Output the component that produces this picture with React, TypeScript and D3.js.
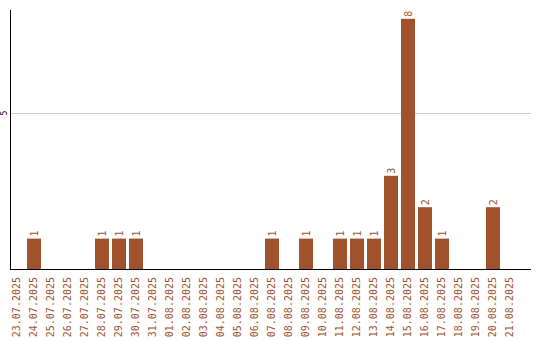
import React from "react";
import * as d3 from "d3";

const dates = [
  "23.07.2025","24.07.2025","25.07.2025","26.07.2025","27.07.2025","28.07.2025","29.07.2025","30.07.2025","31.07.2025",
  "01.08.2025","02.08.2025","03.08.2025","04.08.2025","05.08.2025","06.08.2025","07.08.2025","08.08.2025","09.08.2025",
  "10.08.2025","11.08.2025","12.08.2025","13.08.2025","14.08.2025","15.08.2025","16.08.2025","17.08.2025","18.08.2025",
  "19.08.2025","20.08.2025","21.08.2025",
];
const counts = [0,1,0,0,0,1,1,1,0, 0,0,0,0,0,0,1,0,1, 0,1,1,1,3,8,2,1,0, 0,2,0];
const yTicks = [5];

const W = 540, H = 340;
const color = "#a0522d";
const font = "'DejaVu Sans Mono', monospace";

export default function App() {
  const x = d3.scaleBand<string>().domain(dates).range([8.5, 518.5]).paddingInner(3 / 17).paddingOuter(1.5 / 17);
  const y = d3.scaleLinear().domain([0, 8.28]).range([270, 10]);
  return (
    <svg width={W} height={H} style={{ position: "absolute", left: 0, top: 0 }}>
      {yTicks.map((t) => (
        <g key={t}>
          <line x1={11} x2={531} y1={Math.round(y(t)) + 0.5} y2={Math.round(y(t)) + 0.5} stroke="#cccccc" />
          <text transform={`translate(6.5,${y(t)}) rotate(-90)`} textAnchor="middle" fontSize={8} fontFamily={font} fill="#000">{t}</text>
        </g>
      ))}
      {dates.map((d, i) => {
        const v = counts[i];
        const cx = (x(d) as number) + x.bandwidth() / 2;
        return (
          <g key={d}>
            {v > 0 && (
              <>
                <rect x={x(d)} y={y(v)} width={x.bandwidth()} height={y(0) - y(v)} fill={color} />
                <text transform={`translate(${cx + 3.5},${y(v) - 2}) rotate(-90)`} textAnchor="start" fontSize={10} fontFamily={font} fill={color}>{v}</text>
              </>
            )}
            <text transform={`translate(${cx + 3},277) rotate(-90)`} textAnchor="end" fontSize={10} fontFamily={font} fill={color}>{d}</text>
          </g>
        );
      })}
      <line x1={10.5} x2={10.5} y1={10} y2={270} stroke="#000" />
      <line x1={10} x2={531} y1={269.5} y2={269.5} stroke="#000" />
    </svg>
  );
}
